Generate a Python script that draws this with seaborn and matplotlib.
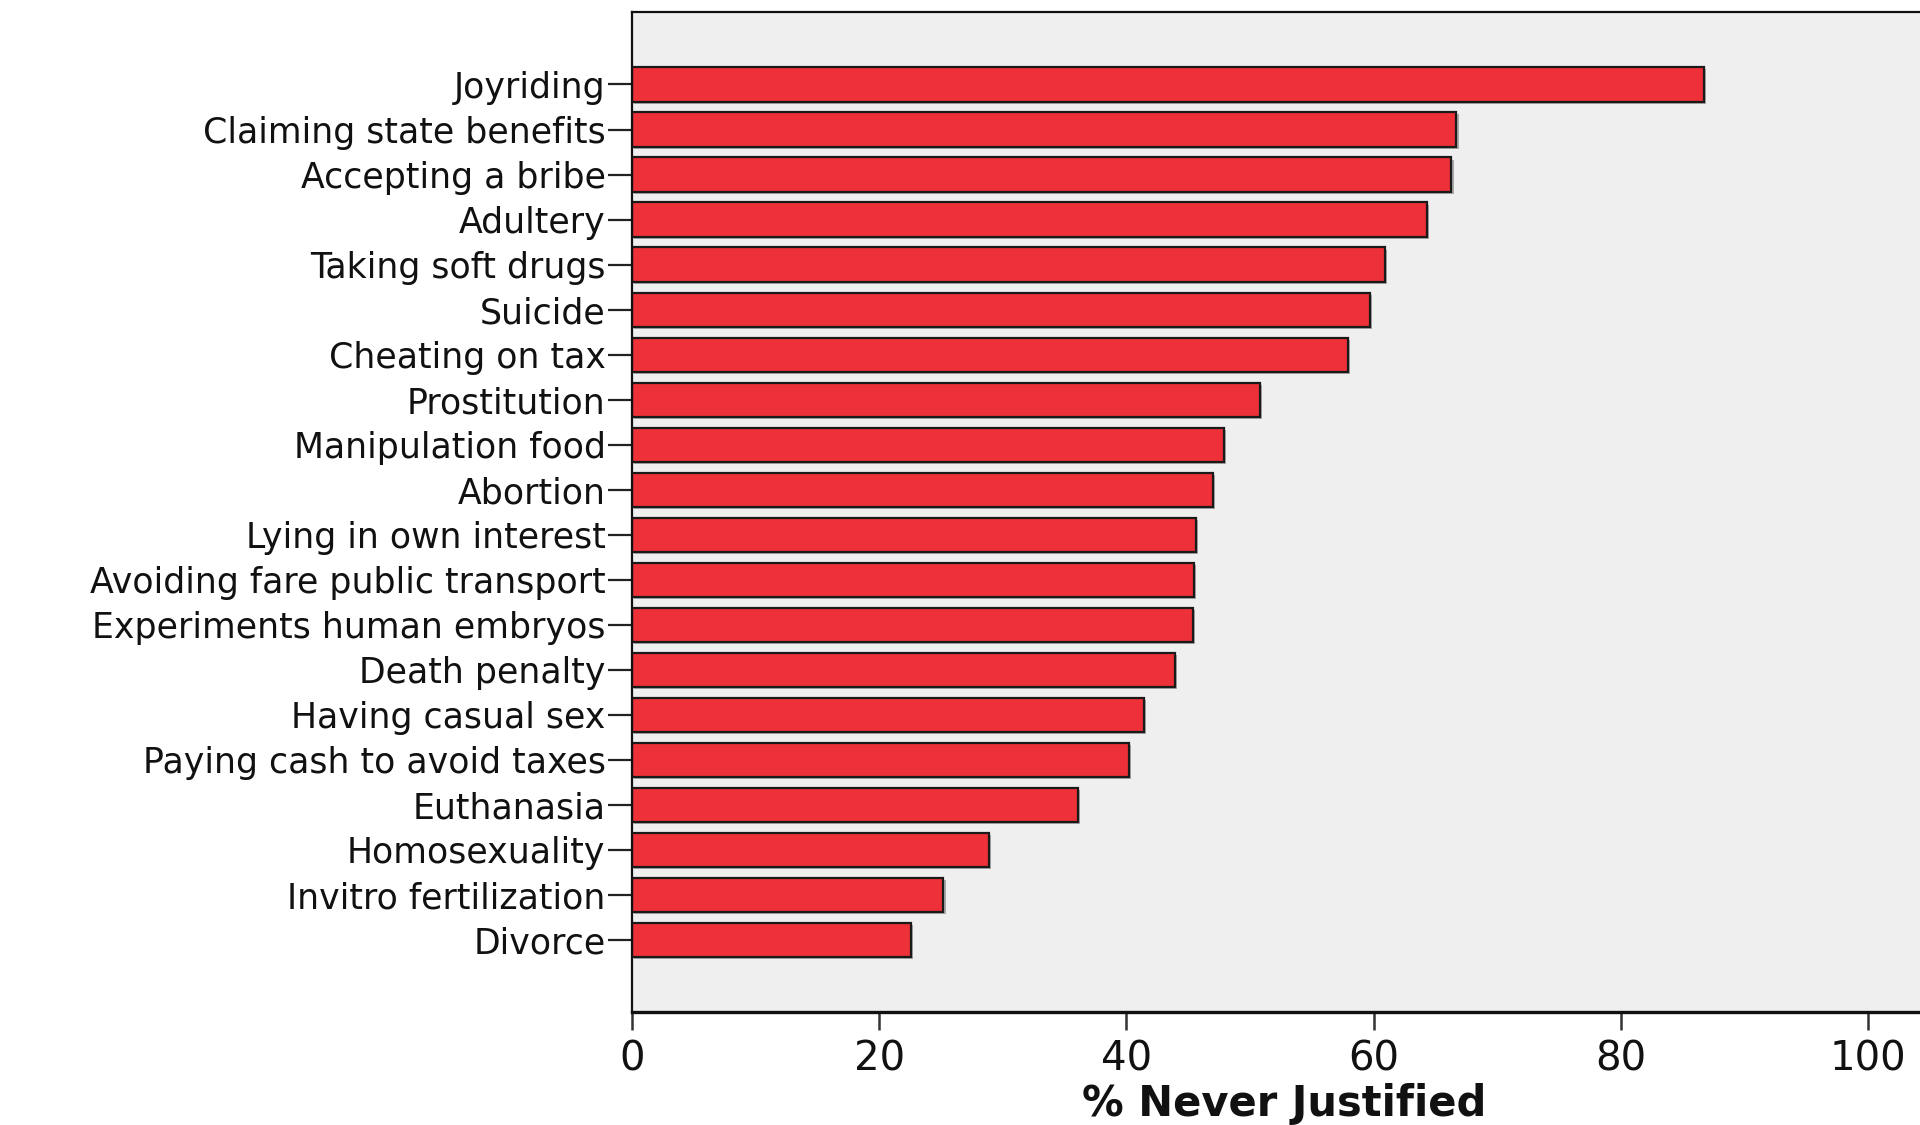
import matplotlib
matplotlib.use("Agg")
import matplotlib.pyplot as plt
import matplotlib.patheffects as pe
import seaborn as sns
import pandas as pd

categories = [
    "Joyriding", "Claiming state benefits", "Accepting a bribe", "Adultery",
    "Taking soft drugs", "Suicide", "Cheating on tax", "Prostitution",
    "Manipulation food", "Abortion", "Lying in own interest",
    "Avoiding fare public transport", "Experiments human embryos",
    "Death penalty", "Having casual sex", "Paying cash to avoid taxes",
    "Euthanasia", "Homosexuality", "Invitro fertilization", "Divorce",
]
never_justified = [
    86.7, 66.7, 66.3, 64.3, 60.9, 59.7, 57.9, 50.8, 47.9, 47.0,
    45.6, 45.5, 45.4, 43.9, 41.4, 40.2, 36.1, 28.9, 25.2, 22.6,
]
x_ticks = [0, 20, 40, 60, 80, 100]

df = pd.DataFrame({"categoria": categories, "valore": never_justified})

sns.set_theme(style="white")
plt.rcParams["font.family"] = ["DejaVu Sans"]

fig = plt.figure(figsize=(19.2, 11.25), dpi=100)
ax = fig.add_axes([632 / 1920, 113 / 1125, 1304 / 1920, 1000 / 1125])
ax.set_facecolor("#efefef")

sns.barplot(data=df, x="valore", y="categoria", orient="h", color="#ee3039",
            saturation=1, width=0.76, edgecolor="#1a1a1a", linewidth=1.6, ax=ax)

# ombra leggera sulle barre
for p in ax.patches:
    p.set_path_effects([pe.SimplePatchShadow(offset=(1.5, -1.5), shadow_rgbFace="#555555", alpha=0.45),
                        pe.Normal()])

ax.set_xlim(0, 105.5)
ax.set_ylim(20.6, -1.61)
ax.set_xticks(x_ticks)
ax.set_xticklabels([str(t) for t in x_ticks])

for side in ["left", "top", "bottom", "right"]:
    ax.spines[side].set_visible(True)
    ax.spines[side].set_color("#111111")
    ax.spines[side].set_linewidth(1.6)
ax.spines["bottom"].set_linewidth(2.4)

ax.tick_params(axis="y", which="major", left=True, length=17, width=1.6,
               color="#222222", pad=2, labelsize=25, labelcolor="#111111")
ax.tick_params(axis="x", which="major", bottom=True, length=13, width=1.8,
               color="#333333", pad=7, labelsize=29, labelcolor="#111111")

ax.set_ylabel("")
ax.set_xlabel("% Never Justified", fontsize=30, fontweight="bold",
              color="#111111", labelpad=2)

fig.savefig("out.png", dpi=100, facecolor="white")
